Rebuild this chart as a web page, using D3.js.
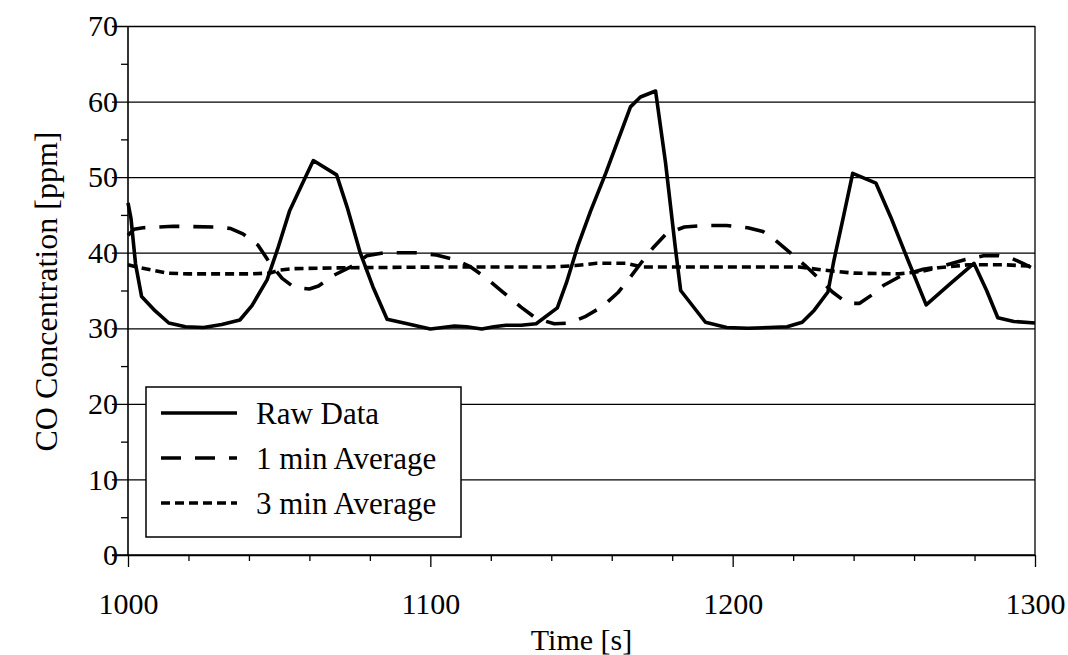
<!DOCTYPE html>
<html><head><meta charset="utf-8">
<script src="https://cdn.jsdelivr.net/npm/d3@7"></script>
<style>
html,body{margin:0;padding:0;background:#fff;}
</style></head>
<body>
<svg id="chart" width="1068" height="655"></svg>
<script>
// ---- data ----
const seriesNames = ["Raw Data", "1 min Average", "3 min Average"];
const rawTime = [1000,1001,1002.5,1004.5,1009,1013.5,1019,1025,1031,1037,1041,1046,1049.5,1053.5,1057.5,1061.3,1069,1072.5,1076.8,1081,1085.7,1092.4,1100,1104,1108,1112,1117,1121,1125,1130,1135,1142,1145,1148.7,1153,1158,1162,1166.2,1169.5,1174.5,1177.8,1181,1182.8,1191,1198,1205,1212,1218,1223,1227,1231.5,1233.5,1236.5,1239.7,1247.4,1252.3,1258,1264,1272,1279.8,1284,1287.7,1293,1300];
const rawValue = [46.6,44.5,38.5,34.2,32.3,30.7,30.2,30.1,30.5,31.1,33.0,36.4,40.5,45.6,49.0,52.2,50.3,46.0,40.0,35.5,31.2,30.6,29.9,30.1,30.3,30.2,29.9,30.2,30.4,30.4,30.6,32.7,36.0,40.8,45.5,50.5,54.8,59.3,60.6,61.4,51.9,40.8,35.0,30.8,30.1,30.0,30.1,30.2,30.8,32.4,34.8,39.0,44.5,50.5,49.2,44.7,39.0,33.1,35.9,38.6,35.0,31.4,30.9,30.7];
const avg1Time = [1000,1002,1005,1015,1030,1034,1038,1043,1047,1051,1055,1060,1063,1068,1074,1079,1085,1095,1102,1108,1113,1118,1124,1130,1135,1141,1146,1151,1157,1162,1166,1170,1174,1178,1184,1190,1198,1205,1210,1214,1219,1224,1229,1233,1238,1242,1246,1250,1256,1263,1270,1277,1283,1288,1292,1296,1300];
const avg1Value = [42.3,43.1,43.3,43.5,43.4,43.2,42.5,41.0,38.6,36.6,35.4,35.2,35.6,37.0,38.2,39.6,40.0,40.0,39.7,39.1,38.2,36.8,34.8,32.8,31.3,30.6,30.7,31.5,32.9,34.7,36.7,38.8,40.8,42.5,43.4,43.6,43.6,43.3,42.8,41.7,40.0,38.3,36.4,34.8,33.3,33.3,34.4,35.7,37.0,37.8,38.3,39.1,39.6,39.6,39.3,38.6,37.8];
const avg3Time = [1000,1003,1008,1013,1020,1030,1040,1047,1050,1055,1070,1100,1140,1148,1155,1165,1170,1200,1222,1230,1240,1255,1262,1268,1278,1290,1300];
const avg3Value = [38.4,38.1,37.7,37.3,37.2,37.2,37.2,37.3,37.7,37.9,38.0,38.1,38.1,38.3,38.6,38.6,38.1,38.1,38.1,37.7,37.3,37.2,37.5,38.0,38.4,38.4,38.2];
const xTicks = [1000, 1100, 1200, 1300];
const yTicks = [0, 10, 20, 30, 40, 50, 60, 70];

const FONT = "'Liberation Serif'";

// ---- layout ----
const svg = d3.select("#chart");
const L = 128, R = 1035, T = 26, B = 555;
const x = d3.scaleLinear().domain([1000, 1300]).range([L, R]);
const y = d3.scaleLinear().domain([0, 70]).range([B, T]);

function serif(sel, size) {
  return sel.style("font-family", FONT).style("font-size", size + "px").attr("fill", "#000");
}

// gridlines + y axis
const yAxis = d3.axisLeft(y).tickValues(yTicks).tickSize(-(R - L)).tickPadding(10).tickFormat(d3.format("d"));
const gy = svg.append("g").attr("transform", `translate(${L},0)`).call(yAxis);
gy.attr("font-family", null).attr("font-size", null);
gy.select(".domain").remove();
gy.selectAll(".tick line").attr("x1", -16).attr("stroke", "#000").attr("stroke-width", 1.3);
serif(gy.selectAll(".tick text").attr("x", -10), 30);

// y minor ticks
const yMinor = d3.axisLeft(y).tickValues(d3.range(5, 70, 10)).tickSize(7).tickFormat("");
const gym = svg.append("g").attr("transform", `translate(${L},0)`).call(yMinor);
gym.select(".domain").remove();
gym.selectAll(".tick line").attr("stroke", "#000").attr("stroke-width", 1.3);

// y axis line & right border
svg.append("line").attr("x1", L).attr("x2", L).attr("y1", T).attr("y2", B).attr("stroke", "#000").attr("stroke-width", 1.6);
svg.append("line").attr("x1", R).attr("x2", R).attr("y1", T).attr("y2", B).attr("stroke", "#000").attr("stroke-width", 1.3);

// x axis
const xAxis = d3.axisBottom(x).tickValues(xTicks).tickSize(12).tickPadding(26).tickFormat(d3.format("d"));
const gx = svg.append("g").attr("transform", `translate(0,${B})`).call(xAxis);
gx.attr("font-family", null).attr("font-size", null);
gx.select(".domain").remove();
gx.selectAll(".tick line").attr("stroke", "#000").attr("stroke-width", 1.3);
serif(gx.selectAll(".tick text"), 30);
const xMinor = d3.axisBottom(x).tickValues(d3.range(1020, 1300, 20).filter(v => v % 100 !== 0)).tickSize(6).tickFormat("");
const gxm = svg.append("g").attr("transform", `translate(0,${B})`).call(xMinor);
gxm.select(".domain").remove();
gxm.selectAll(".tick line").attr("stroke", "#000").attr("stroke-width", 1.3);
svg.append("line").attr("x1", L - 16).attr("x2", R).attr("y1", B).attr("y2", B).attr("stroke", "#000").attr("stroke-width", 1.6);

// axis titles
serif(svg.append("text").attr("x", (L + R) / 2).attr("y", 650).attr("text-anchor", "middle"), 30).text("Time [s]");
serif(svg.append("text").attr("transform", `translate(57,${(T + B) / 2 + 1}) rotate(-90)`).attr("text-anchor", "middle"), 32)
  .text("CO Concentration [ppm]");

// series
const dashes = [null, "20,14", "9,5"];
const seriesData = [
  d3.zip(rawTime, rawValue),
  d3.zip(avg1Time, avg1Value),
  d3.zip(avg3Time, avg3Value)
];
const line = d3.line().x(d => x(d[0])).y(d => y(d[1]));
const plot = svg.append("g");
[2, 1, 0].forEach(i => {
  plot.append("path").datum(seriesData[i]).attr("d", line)
    .attr("fill", "none").attr("stroke", "#000").attr("stroke-width", 3.6)
    .attr("stroke-linejoin", "round")
    .attr("stroke-dasharray", dashes[i]);
});

// legend
const lg = svg.append("g");
lg.append("rect").attr("x", 146).attr("y", 387).attr("width", 315).attr("height", 150)
  .attr("fill", "#fff").attr("stroke", "#000").attr("stroke-width", 1.5);
seriesNames.forEach((name, i) => {
  const ly = 413 + i * 45;
  lg.append("line").attr("x1", 161).attr("x2", 237).attr("y1", ly).attr("y2", ly)
    .attr("stroke", "#000").attr("stroke-width", 3.6).attr("stroke-dasharray", dashes[i]);
  serif(lg.append("text").attr("x", 256).attr("y", ly + 11), 31).text(name);
});
</script>
</body></html>
